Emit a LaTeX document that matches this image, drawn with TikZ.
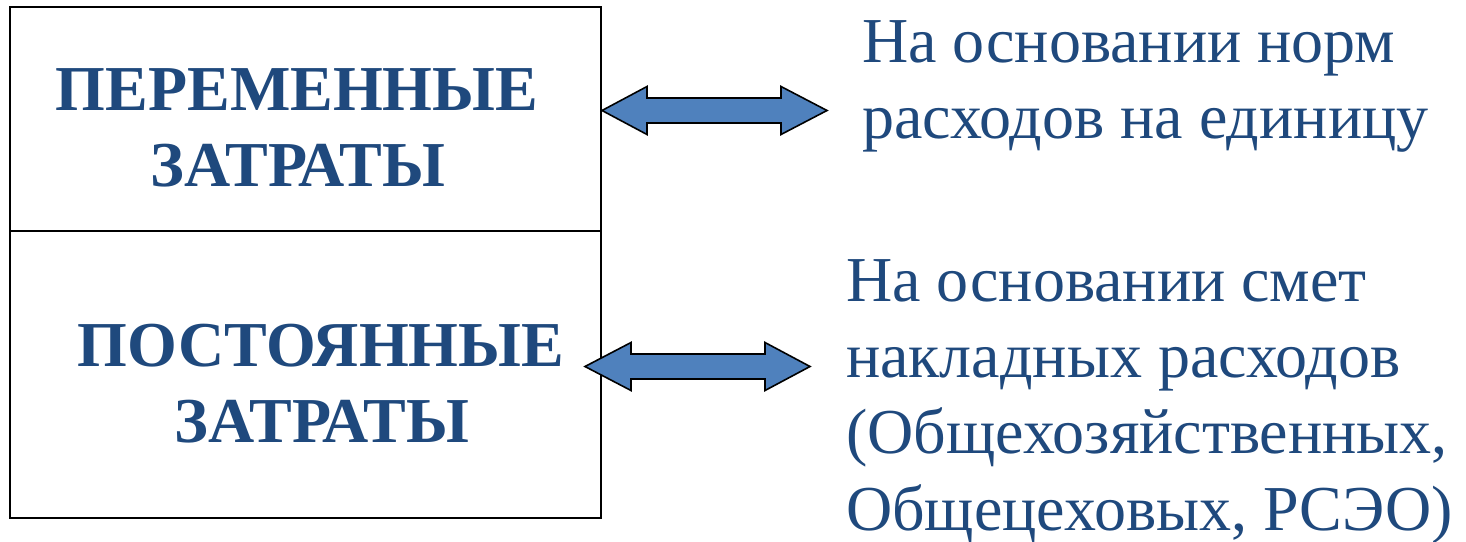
\documentclass[tikz,border=0pt]{standalone}
\usepackage{fontspec}
\setmainfont{Liberation Serif}
\usetikzlibrary{calc}
\definecolor{txtblue}{HTML}{1F497D}
\definecolor{arrowblue}{HTML}{4F81BD}
\begin{document}
\begin{tikzpicture}[x=1pt,y=-1pt,
  boxtext/.style={anchor=base,inner sep=0pt,text=txtblue,font=\fontsize{64}{70}\selectfont\bfseries},
  sidetext/.style={anchor=base west,inner sep=0pt,text=txtblue,font=\fontsize{64}{70}\selectfont},
  dblarrow/.style={draw=black,line width=1.6pt,fill=arrowblue,line join=miter}]
\useasboundingbox (0,0) rectangle (1466,541);
\fill[white] (0,0) rectangle (1466,541);

% two-part frame
\draw[line width=2.8pt] (10,7) rectangle (601,518);
\draw[line width=2.8pt] (10,231) -- (601,231);

% labels inside the frame
\node[boxtext] (var1) at (297,110) {ПЕРЕМЕННЫЕ};
\node[boxtext] (var2) at (298,186) {ЗАТРАТЫ};
\node[boxtext] (fix1) at (321,366) {ПОСТОЯННЫЕ};
\node[boxtext] (fix2) at (322,442) {ЗАТРАТЫ};

% explanations on the right
\node[sidetext] (n1) at (862,62) {На основании норм};
\node[sidetext] (n2) at (862,138) {расходов на единицу};
\node[sidetext] (s1) at (846,301) {На основании смет};
\node[sidetext] (s2) at (846,377) {накладных расходов};
\node[sidetext] (s3) at (846,453) {(Общехозяйственных,};
\node[sidetext] (s4) at (846,530) {Общецеховых, РСЭО)};

% double-headed block arrows
\coordinate (a1l) at (602,110.5);
\coordinate (a1r) at (827,110.5);
\coordinate (a2l) at (585,366.5);
\coordinate (a2r) at (810,366.5);
\draw[dblarrow] (a1l) -- ++(45,-24) -- ++(0,11.5) -- ($(a1r)+(-46,-12.5)$) -- ++(0,-11.5) -- (a1r)
  -- ++(-46,24) -- ++(0,-11.5) -- ($(a1l)+(45,12.5)$) -- ++(0,11.5) -- cycle;
\draw[dblarrow] (a2l) -- ++(46,-24) -- ++(0,11.5) -- ($(a2r)+(-45,-12.5)$) -- ++(0,-11.5) -- (a2r)
  -- ++(-45,24) -- ++(0,-11.5) -- ($(a2l)+(46,12.5)$) -- ++(0,11.5) -- cycle;
\end{tikzpicture}
\end{document}
